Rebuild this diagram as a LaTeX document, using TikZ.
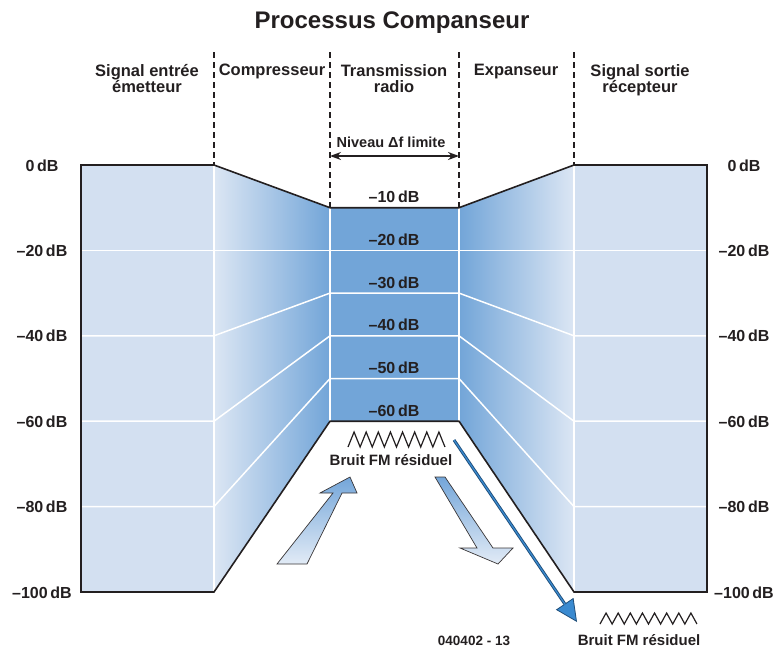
\documentclass[tikz,border=0pt]{standalone}
\usepackage{fontspec}
\setmainfont{Liberation Sans}
\usetikzlibrary{arrows.meta}
\definecolor{ink}{HTML}{231F20}
\definecolor{paleblue}{HTML}{D3E0F1}
\definecolor{midblue}{HTML}{72A5D8}
\definecolor{arrowlight}{HTML}{E2EBF6}
\definecolor{arrowdark}{HTML}{74A6D9}
\definecolor{linedark}{HTML}{1F4E7A}
\definecolor{lineblue}{HTML}{3A8AD0}

\begin{document}
\begin{tikzpicture}[x=1pt,y=-1pt,>=Stealth,line cap=butt,
				hdr/.style={font=\bfseries\fontsize{16.5}{16.6}\selectfont,text=ink,align=center,inner sep=0pt,anchor=north},
				dblbl/.style={font=\bfseries\fontsize{16}{16}\selectfont,text=ink,inner sep=0pt,anchor=base},
				noiselbl/.style={font=\bfseries\fontsize{15}{15}\selectfont,text=ink,inner sep=0pt,anchor=base},
				whiteline/.style={white,line width=1.5pt},
				colsep/.style={ink,line width=1.1pt,dash pattern=on 6pt off 4pt},
				fatarrow/.style={draw=ink!90,line width=0.7pt,line join=miter},
				noise/.style={ink,line width=1.2pt,line join=miter}]
				\useasboundingbox (0,0) rectangle (783,648);
				% levels: 0dB at y=165, 4.27 per dB
				\fill[paleblue] (81,165) rectangle (214,592);
				\shade[left color=paleblue!80!white,right color=midblue] (214,165) -- (330,207.7) -- (330,421.2) -- (214,592) -- cycle;
				\fill[midblue] (330,207.7) rectangle (459,421.2);
				\shade[left color=midblue,right color=paleblue!80!white] (459,207.7) -- (574,165) -- (574,592) -- (459,421.2) -- cycle;
				\fill[paleblue] (574,165) rectangle (707,592);
				
				\foreach \d [evaluate=\d as \yl using 165+4.27*\d, evaluate=\d as \ym using 165+4.27*(10+\d/2)] in {20,40,60,80}
				{\draw[whiteline] (81,\yl) -- (214,\yl) -- (330,\ym) -- (459,\ym) -- (574,\yl) -- (707,\yl);}
				\foreach \X in {214,574}
				{\draw[whiteline] (\X,165) -- (\X,592);}
				\foreach \X in {330,459}
				{\draw[whiteline] (\X,207.7) -- (\X,421.2);}
				
				\draw[ink,line width=1.6pt,line join=miter] (81,165) -- (214,165) -- (330,207.7) -- (459,207.7) -- (574,165) -- (707,165)
				-- (707,592) -- (574,592) -- (459,421.2) -- (330,421.2) -- (214,592) -- (81,592) -- cycle;
				
				% column separators
				\foreach \X/\Y in {214/165,330/207.7,459/207.7,574/165}
				{\draw[colsep] (\X,52) -- (\X,\Y);}
				
				\node[font=\bfseries\fontsize{24}{24}\selectfont,text=ink,inner sep=0pt,anchor=base] (title) at (392,28) {Processus Companseur};
				\node[hdr] (h1) at (147,64) {Signal entrée\\émetteur};
				\node[hdr] (h2) at (272,64) {Compresseur};
				\node[hdr] (h3) at (394,64) {Transmission\\radio};
				\node[hdr] (h4) at (516,64) {Expanseur};
				\node[hdr] (h5) at (640,64) {Signal sortie\\récepteur};
				
				\node[font=\bfseries\fontsize{14.5}{14.5}\selectfont,text=ink,inner sep=0pt,anchor=base] (niveau) at (391,147) {Niveau Δf limite};
				\coordinate (lv1) at (330,156);
				\coordinate (lv2) at (459,156);
				\draw[{Stealth[length=11pt,width=8pt]}-{Stealth[length=11pt,width=8pt]},ink,line width=1.4pt] (lv1) -- (lv2);
				
				\foreach \d/\t in {0/0,20/–20,40/–40,60/–60,80/–80,100/–100}
				{\node[dblbl] (l\d) at (42,{171+4.27*\d}) {\t\,dB};
					\node[dblbl] (r\d) at (744,{171+4.27*\d}) {\t\,dB};}
				\foreach \d in {10,20,...,60}
				{\node[dblbl] (m\d) at (394,{160+4.27*\d}) {–\d\,dB};}
				
				% noise
				\draw[noise] (348,447) foreach \k in {1,...,8} {-- ++(6.06,-15) -- ++(6.06,15)};
				\node[noiselbl] (bruit1) at (391,465) {Bruit FM résiduel};
				\draw[noise] (600,624) foreach \k in {1,...,8} {-- ++(6.06,-11) -- ++(6.06,11)};
				\node[noiselbl] (bruit2) at (639,645) {Bruit FM résiduel};
				
				\draw[fatarrow,bottom color=arrowlight,top color=arrowdark] (277,564) -- (333,493) -- (320,493) -- (350,477) -- (357,493) -- (342,493) -- (307,564) -- cycle;
				\draw[fatarrow,top color=arrowdark,bottom color=arrowlight] (435,477) -- (445,477) -- (493,548) -- (513,548) -- (498,564) -- (460,548) -- (477,548) -- cycle;
				
				\coordinate (ns) at (454,440);
				\coordinate (ne) at (577,622);
				\draw[linedark,line width=3pt,-{Triangle[length=22pt,width=21pt,line width=0.8pt,fill=lineblue]}] (ns) -- (ne);
				\draw[lineblue,line width=1.2pt,shorten >=21pt] (ns) -- (ne);
				
				\node[font=\bfseries\fontsize{13.5}{13.5}\selectfont,text=ink,inner sep=0pt,anchor=base] (code) at (474,645) {040402 - 13};
			\end{tikzpicture}
\end{document}
